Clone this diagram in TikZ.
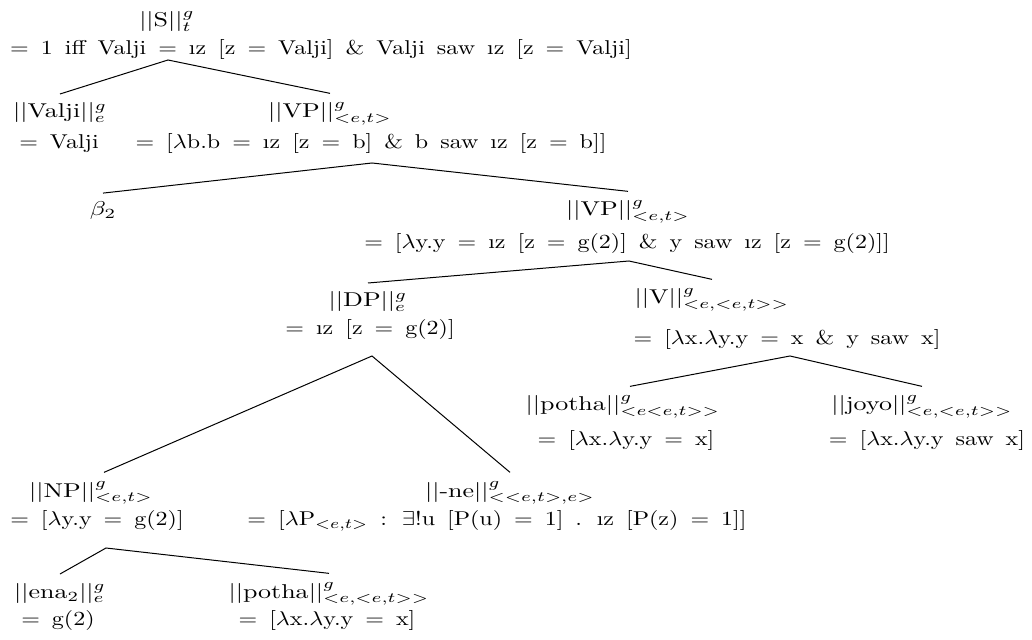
\documentclass[tikz,border=0pt]{standalone}
\usepackage{amsmath,amssymb}
\usepackage{graphicx}

% labels of the tree are set a little wide, with wide word spaces
\newcommand{\vl}[1]{\scalebox{1.2}[1]{\spaceskip=5pt\relax #1}}
\newcommand{\hl}[1]{\scalebox{1.3}[1]{#1}}

\tikzset{
  hd/.style={anchor=base, inner sep=0pt, outer ysep=4.5pt},
  val/.style={anchor=base, inner sep=0pt},
  branch/.style={line width=0.5pt}
}

\begin{document}
\begin{tikzpicture}[x=0.5pt,y=-0.5pt]
  \useasboundingbox (0,0) rectangle (1032,640);

  % root
  \node[hd]  (s)     at (167,27)  {\hl{$||$S$||^g_t$}};
  \node[val] (s-val) at (321,55)  {\vl{$=$ 1 iff Valji $=$ \i z [z $=$ Valji] \& Valji saw \i z [z $=$ Valji]}};
  \coordinate (a-s) at (168,60);

  % subject and VP
  \node[hd]  (valji)     at (60,118)  {\hl{$||$Valji$||^g_e$}};
  \node[val] (valji-val) at (59,149)  {\vl{$=$ Valji}};
  \node[hd]  (vp1)       at (330,118) {\hl{$||$VP$||^g_{<e,t>}$}};
  \node[val] (vp1-val)   at (371,149) {\vl{$=$ [$\lambda$b.b $=$ \i z [z $=$ b] \& b saw \i z [z $=$ b]]}};
  \coordinate (a-vp1) at (372,163);

  % binder and lower VP
  \node[hd]  (beta)    at (103,216) {\hl{$\beta_2$}};
  \node[hd]  (vp2)     at (628,216) {\hl{$||$VP$||^g_{<e,t>}$}};
  \node[val] (vp2-val) at (627,249) {\vl{$=$ [$\lambda$y.y $=$ \i z [z $=$ g(2)] \& y saw \i z [z $=$ g(2)]]}};
  \coordinate (a-vp2) at (629,261);

  % DP and V
  \node[hd]  (dp)     at (368,307) {\hl{$||$DP$||^g_e$}};
  \node[val] (dp-val) at (370,335) {\vl{$=$ \i z [z $=$ g(2)]}};
  \coordinate (a-dp) at (372,356);
  \node[hd]  (v)      at (712,304) {\hl{$||$V$||^g_{<e,<e,t>>}$}};
  \node[val] (v-val)  at (787,345) {\vl{$=$ [$\lambda$x.$\lambda$y.y $=$ x \& y saw x]}};
  \coordinate (a-v) at (790,356);

  % parts of V
  \node[hd]  (potha)     at (623,411) {\hl{$||$potha$||^g_{<e<e,t>>}$}};
  \node[val] (potha-val) at (626,445) {\vl{$=$ [$\lambda$x.$\lambda$y.y $=$ x]}};
  \node[hd]  (joyo)      at (922,411) {\hl{$||$joyo$||^g_{<e,<e,t>>}$}};
  \node[val] (joyo-val)  at (927,445) {\vl{$=$ [$\lambda$x.$\lambda$y.y saw x]}};

  % parts of DP
  \node[hd]  (np)     at (91,497)  {\hl{$||$NP$||^g_{<e,t>}$}};
  \node[val] (np-val) at (97,525)  {\vl{$=$ [$\lambda$y.y $=$ g(2)]}};
  \coordinate (a-np) at (106,548);
  \node[hd]  (ne)     at (510,497) {\hl{$||$-ne$||^g_{<<e,t>,e>}$}};
  \node[val] (ne-val) at (497,525) {\vl{$=$ [$\lambda$P$_{<e,t>}$ : $\exists$!u [P(u) $=$ 1] . \i z [P(z) $=$ 1]]}};

  % parts of NP
  \node[hd]  (ena)        at (60,598)  {\hl{$||$ena$_2||^g_e$}};
  \node[val] (ena-val)    at (58,625)  {\vl{$=$ g(2)}};
  \node[hd]  (potha2)     at (329,598) {\hl{$||$potha$||^g_{<e,<e,t>>}$}};
  \node[val] (potha2-val) at (327,625) {\vl{$=$ [$\lambda$x.$\lambda$y.y $=$ x]}};

  % branches
  \draw[branch] (valji.north) -- (a-s) -- (vp1.north);
  \draw[branch] (beta.north) -- (a-vp1) -- (vp2.north);
  \draw[branch] (dp.north) -- (a-vp2) -- (v.north);
  \draw[branch] ([xshift=6.5pt]np.north) -- (a-dp) -- (ne.north);
  \draw[branch] ([xshift=3.5pt]potha.north) -- (a-v) -- (joyo.north);
  \draw[branch] (ena.north) -- (a-np) -- (potha2.north);
\end{tikzpicture}
\end{document}
